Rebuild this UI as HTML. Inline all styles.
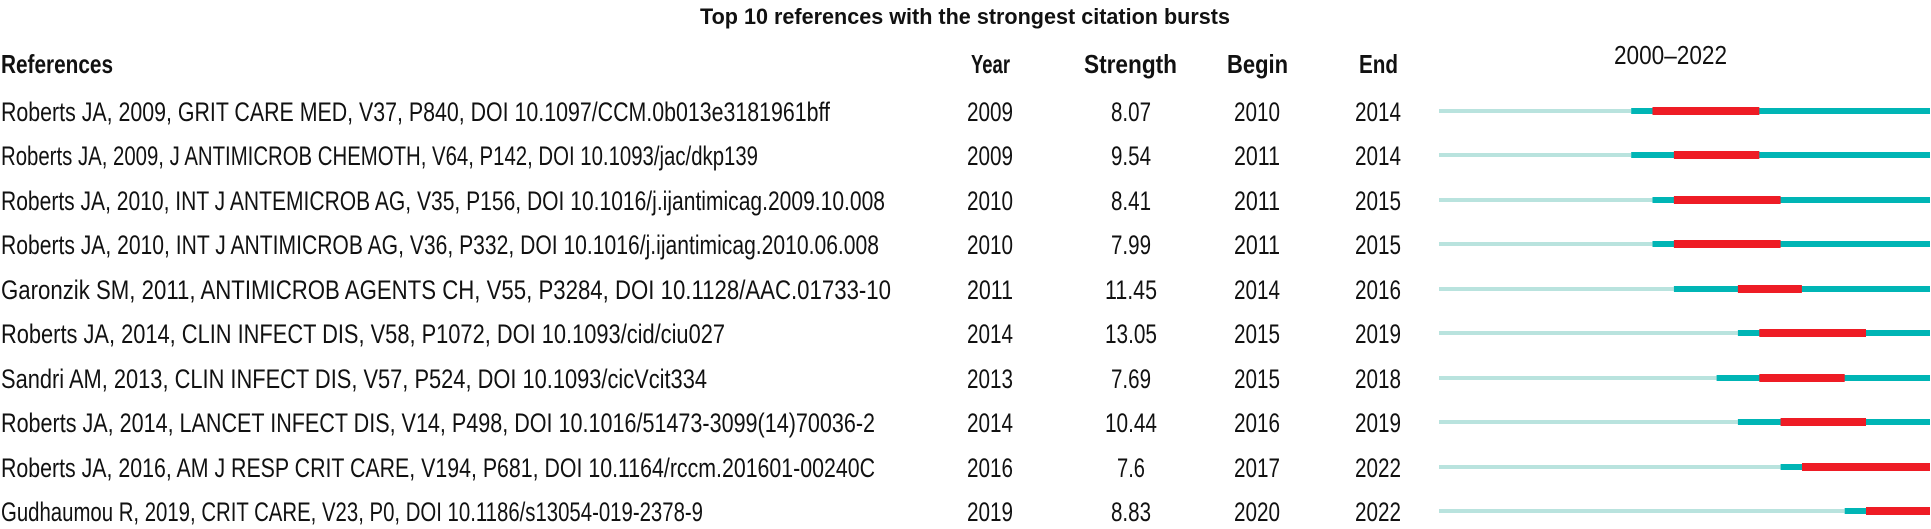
<!DOCTYPE html>
<html><head><meta charset="utf-8"><style>html,body{margin:0;padding:0;background:#fff}svg{display:block}</style></head>
<body>
<svg width="1931" height="529" viewBox="0 0 1931 529" xmlns="http://www.w3.org/2000/svg" font-family="Liberation Sans, sans-serif" fill="#111">
<text x="965" y="24" font-size="22" font-weight="bold" text-anchor="middle" textLength="530" lengthAdjust="spacingAndGlyphs">Top 10 references with the strongest citation bursts</text>
<g font-size="26" font-weight="bold">
<text x="1" y="73" textLength="112" lengthAdjust="spacingAndGlyphs">References</text>
<text x="971" y="73" textLength="39" lengthAdjust="spacingAndGlyphs">Year</text>
<text x="1084" y="73" textLength="93" lengthAdjust="spacingAndGlyphs">Strength</text>
<text x="1227" y="73" textLength="61" lengthAdjust="spacingAndGlyphs">Begin</text>
<text x="1359" y="73" textLength="39" lengthAdjust="spacingAndGlyphs">End</text>
</g>
<text x="1614" y="64" font-size="26" textLength="113" lengthAdjust="spacingAndGlyphs">2000–2022</text>
<g font-size="27">
<text x="1" y="121" textLength="829" lengthAdjust="spacingAndGlyphs">Roberts JA, 2009, GRIT CARE MED, V37, P840, DOI 10.1097/CCM.0b013e3181961bff</text>
<text x="1" y="165" textLength="757" lengthAdjust="spacingAndGlyphs">Roberts JA, 2009, J ANTIMICROB CHEMOTH, V64, P142, DOI 10.1093/jac/dkp139</text>
<text x="1" y="210" textLength="884" lengthAdjust="spacingAndGlyphs">Roberts JA, 2010, INT J ANTEMICROB AG, V35, P156, DOI 10.1016/j.ijantimicag.2009.10.008</text>
<text x="1" y="254" textLength="878" lengthAdjust="spacingAndGlyphs">Roberts JA, 2010, INT J ANTIMICROB AG, V36, P332, DOI 10.1016/j.ijantimicag.2010.06.008</text>
<text x="1" y="299" textLength="890" lengthAdjust="spacingAndGlyphs">Garonzik SM, 2011, ANTIMICROB AGENTS CH, V55, P3284, DOI 10.1128/AAC.01733-10</text>
<text x="1" y="343" textLength="724" lengthAdjust="spacingAndGlyphs">Roberts JA, 2014, CLIN INFECT DIS, V58, P1072, DOI 10.1093/cid/ciu027</text>
<text x="1" y="388" textLength="706" lengthAdjust="spacingAndGlyphs">Sandri AM, 2013, CLIN INFECT DIS, V57, P524, DOI 10.1093/cicVcit334</text>
<text x="1" y="432" textLength="874" lengthAdjust="spacingAndGlyphs">Roberts JA, 2014, LANCET INFECT DIS, V14, P498, DOI 10.1016/51473-3099(14)70036-2</text>
<text x="1" y="477" textLength="874" lengthAdjust="spacingAndGlyphs">Roberts JA, 2016, AM J RESP CRIT CARE, V194, P681, DOI 10.1164/rccm.201601-00240C</text>
<text x="1" y="521" textLength="702" lengthAdjust="spacingAndGlyphs">Gudhaumou R, 2019, CRIT CARE, V23, P0, DOI 10.1186/s13054-019-2378-9</text>
</g>
<g font-size="27" text-anchor="middle">
<g transform="translate(0,121)">
<text x="990" textLength="46" lengthAdjust="spacingAndGlyphs">2009</text><text x="1131" textLength="40" lengthAdjust="spacingAndGlyphs">8.07</text><text x="1257" textLength="46" lengthAdjust="spacingAndGlyphs">2010</text><text x="1378" textLength="46" lengthAdjust="spacingAndGlyphs">2014</text></g>
<g transform="translate(0,165)">
<text x="990" textLength="46" lengthAdjust="spacingAndGlyphs">2009</text><text x="1131" textLength="40" lengthAdjust="spacingAndGlyphs">9.54</text><text x="1257" textLength="46" lengthAdjust="spacingAndGlyphs">2011</text><text x="1378" textLength="46" lengthAdjust="spacingAndGlyphs">2014</text></g>
<g transform="translate(0,210)">
<text x="990" textLength="46" lengthAdjust="spacingAndGlyphs">2010</text><text x="1131" textLength="40" lengthAdjust="spacingAndGlyphs">8.41</text><text x="1257" textLength="46" lengthAdjust="spacingAndGlyphs">2011</text><text x="1378" textLength="46" lengthAdjust="spacingAndGlyphs">2015</text></g>
<g transform="translate(0,254)">
<text x="990" textLength="46" lengthAdjust="spacingAndGlyphs">2010</text><text x="1131" textLength="40" lengthAdjust="spacingAndGlyphs">7.99</text><text x="1257" textLength="46" lengthAdjust="spacingAndGlyphs">2011</text><text x="1378" textLength="46" lengthAdjust="spacingAndGlyphs">2015</text></g>
<g transform="translate(0,299)">
<text x="990" textLength="46" lengthAdjust="spacingAndGlyphs">2011</text><text x="1131" textLength="52" lengthAdjust="spacingAndGlyphs">11.45</text><text x="1257" textLength="46" lengthAdjust="spacingAndGlyphs">2014</text><text x="1378" textLength="46" lengthAdjust="spacingAndGlyphs">2016</text></g>
<g transform="translate(0,343)">
<text x="990" textLength="46" lengthAdjust="spacingAndGlyphs">2014</text><text x="1131" textLength="52" lengthAdjust="spacingAndGlyphs">13.05</text><text x="1257" textLength="46" lengthAdjust="spacingAndGlyphs">2015</text><text x="1378" textLength="46" lengthAdjust="spacingAndGlyphs">2019</text></g>
<g transform="translate(0,388)">
<text x="990" textLength="46" lengthAdjust="spacingAndGlyphs">2013</text><text x="1131" textLength="40" lengthAdjust="spacingAndGlyphs">7.69</text><text x="1257" textLength="46" lengthAdjust="spacingAndGlyphs">2015</text><text x="1378" textLength="46" lengthAdjust="spacingAndGlyphs">2018</text></g>
<g transform="translate(0,432)">
<text x="990" textLength="46" lengthAdjust="spacingAndGlyphs">2014</text><text x="1131" textLength="52" lengthAdjust="spacingAndGlyphs">10.44</text><text x="1257" textLength="46" lengthAdjust="spacingAndGlyphs">2016</text><text x="1378" textLength="46" lengthAdjust="spacingAndGlyphs">2019</text></g>
<g transform="translate(0,477)">
<text x="990" textLength="46" lengthAdjust="spacingAndGlyphs">2016</text><text x="1131" textLength="28" lengthAdjust="spacingAndGlyphs">7.6</text><text x="1257" textLength="46" lengthAdjust="spacingAndGlyphs">2017</text><text x="1378" textLength="46" lengthAdjust="spacingAndGlyphs">2022</text></g>
<g transform="translate(0,521)">
<text x="990" textLength="46" lengthAdjust="spacingAndGlyphs">2019</text><text x="1131" textLength="40" lengthAdjust="spacingAndGlyphs">8.83</text><text x="1257" textLength="46" lengthAdjust="spacingAndGlyphs">2020</text><text x="1378" textLength="46" lengthAdjust="spacingAndGlyphs">2022</text></g>
</g>
<g>
<!-- rows: y center, teal start, red start, red end -->
<g transform="translate(0,111)"><rect x="1439" y="-2" width="192.2" height="4" fill="#b9e3de"/><rect x="1631.2" y="-3" width="298.8" height="6" fill="#00b5b5"/><rect x="1652.5" y="-4" width="106.8" height="8" fill="#ee1c25"/></g>
<g transform="translate(0,155)"><rect x="1439" y="-2" width="192.2" height="4" fill="#b9e3de"/><rect x="1631.2" y="-3" width="298.8" height="6" fill="#00b5b5"/><rect x="1673.9" y="-4" width="85.4" height="8" fill="#ee1c25"/></g>
<g transform="translate(0,200)"><rect x="1439" y="-2" width="213.5" height="4" fill="#b9e3de"/><rect x="1652.5" y="-3" width="277.5" height="6" fill="#00b5b5"/><rect x="1673.9" y="-4" width="106.7" height="8" fill="#ee1c25"/></g>
<g transform="translate(0,244)"><rect x="1439" y="-2" width="213.5" height="4" fill="#b9e3de"/><rect x="1652.5" y="-3" width="277.5" height="6" fill="#00b5b5"/><rect x="1673.9" y="-4" width="106.7" height="8" fill="#ee1c25"/></g>
<g transform="translate(0,289)"><rect x="1439" y="-2" width="234.9" height="4" fill="#b9e3de"/><rect x="1673.9" y="-3" width="256.1" height="6" fill="#00b5b5"/><rect x="1737.9" y="-4" width="64" height="8" fill="#ee1c25"/></g>
<g transform="translate(0,333)"><rect x="1439" y="-2" width="298.9" height="4" fill="#b9e3de"/><rect x="1737.9" y="-3" width="192.1" height="6" fill="#00b5b5"/><rect x="1759.3" y="-4" width="106.7" height="8" fill="#ee1c25"/></g>
<g transform="translate(0,378)"><rect x="1439" y="-2" width="277.6" height="4" fill="#b9e3de"/><rect x="1716.6" y="-3" width="213.4" height="6" fill="#00b5b5"/><rect x="1759.3" y="-4" width="85.4" height="8" fill="#ee1c25"/></g>
<g transform="translate(0,422)"><rect x="1439" y="-2" width="298.9" height="4" fill="#b9e3de"/><rect x="1737.9" y="-3" width="192.1" height="6" fill="#00b5b5"/><rect x="1780.6" y="-4" width="85.4" height="8" fill="#ee1c25"/></g>
<g transform="translate(0,467)"><rect x="1439" y="-2" width="341.6" height="4" fill="#b9e3de"/><rect x="1780.6" y="-3" width="149.4" height="6" fill="#00b5b5"/><rect x="1802" y="-4" width="128" height="8" fill="#ee1c25"/></g>
<g transform="translate(0,511)"><rect x="1439" y="-2" width="405.7" height="4" fill="#b9e3de"/><rect x="1844.7" y="-3" width="85.3" height="6" fill="#00b5b5"/><rect x="1866" y="-4" width="64" height="8" fill="#ee1c25"/></g>
</g>
</svg>
</body></html>
